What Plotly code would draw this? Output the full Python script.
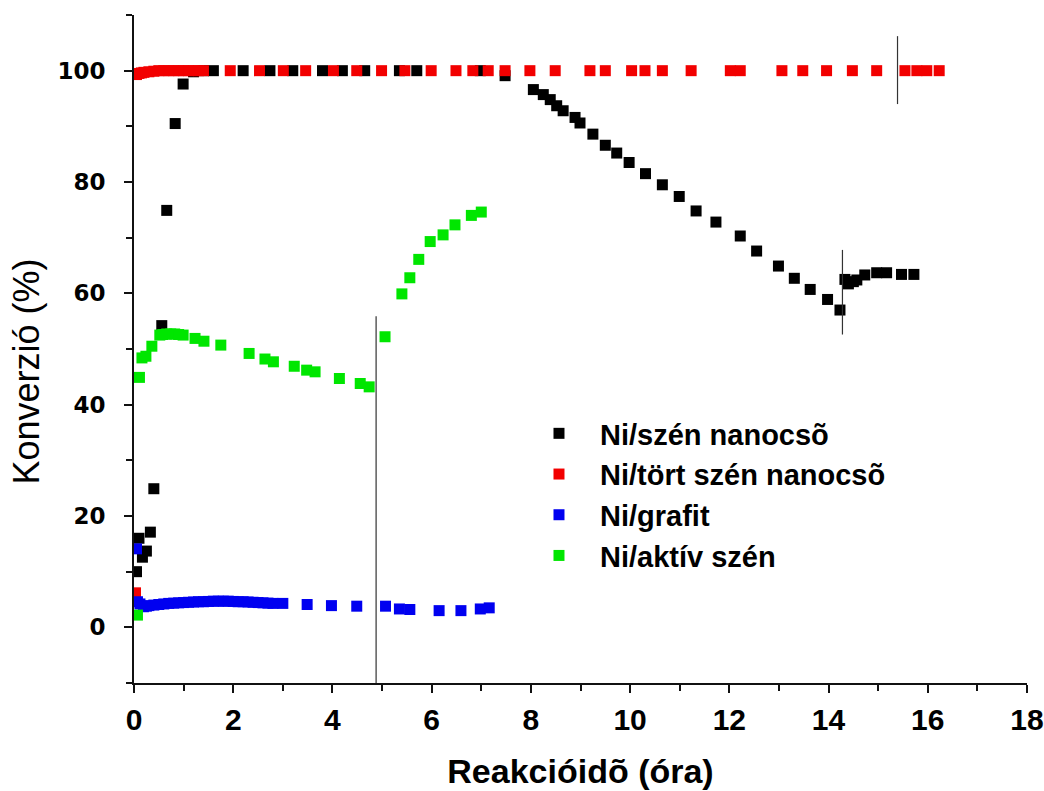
import plotly.graph_objects as go

# Reaction time (h) and conversion (%) per catalyst
cnt_time = [0.05, 0.10, 0.17, 0.25, 0.33, 0.40, 0.56, 0.66, 0.83, 0.99, 1.20, 1.40,
            1.60, 2.20, 2.74, 3.20, 3.80, 4.20, 4.65, 5.35, 5.70, 6.98, 7.48,
            8.05, 8.25, 8.39, 8.52, 8.65, 8.89, 8.99, 9.25, 9.50, 9.73, 9.98,
            10.31, 10.65, 10.99, 11.33, 11.73, 12.22, 12.55, 12.99, 13.31, 13.63,
            13.98, 14.23, 14.33, 14.40, 14.50, 14.57, 14.73, 14.97, 15.17, 15.47, 15.72]
cnt_conv = [10.0, 16.0, 12.6, 13.7, 17.1, 24.9, 54.2, 74.9, 90.5, 97.6, 99.8, 100.0,
            100.0, 100.0, 100.0, 100.0, 100.0, 100.0, 100.0, 100.0, 100.0, 100.0, 99.1,
            96.6, 95.7, 94.8, 93.7, 92.8, 91.6, 90.6, 88.6, 86.6, 85.2, 83.5,
            81.5, 79.5, 77.4, 74.8, 72.8, 70.3, 67.6, 64.9, 62.7, 60.7,
            58.9, 57.0, 62.5, 61.7, 62.1, 62.4, 63.3, 63.7, 63.7, 63.4, 63.4]

broken_time = [0.03, 0.05, 0.10, 0.15, 0.20, 0.30, 0.40, 0.50, 0.60, 0.70, 0.80, 0.90,
               1.00, 1.10, 1.20, 1.30, 1.40, 1.94, 2.53, 3.01, 3.46, 4.02, 4.49, 4.99,
               5.46, 5.99, 6.49, 6.83, 7.14, 7.48, 7.98, 8.49, 9.19, 9.50, 10.03, 10.30,
               10.65, 11.23, 12.02, 12.22, 13.06, 13.48, 13.96, 14.48, 14.97, 15.54,
               15.78, 15.98, 16.23]
broken_conv = [6.2, 99.3, 99.5, 99.6, 99.7, 99.8, 99.9, 100.0, 100.0, 100.0, 100.0, 100.0,
               100.0, 100.0, 100.0, 100.0, 100.0, 100.0, 100.0, 100.0, 100.0, 100.0, 100.0, 100.0,
               100.0, 100.0, 100.0, 100.0, 100.0, 100.0, 100.0, 100.0, 100.0, 100.0, 100.0, 100.0,
               100.0, 100.0, 100.0, 100.0, 100.0, 100.0, 100.0, 100.0, 100.0, 100.0,
               100.0, 100.0, 100.0]

graphite_time = [0.05, 0.07, 0.12, 0.19, 0.25, 0.30, 0.40, 0.50, 0.60, 0.70, 0.80, 0.90,
                 1.00, 1.10, 1.20, 1.30, 1.40, 1.50, 1.60, 1.70, 1.80, 1.90, 2.00, 2.10,
                 2.20, 2.30, 2.40, 2.50, 2.60, 2.70, 2.80, 3.00, 3.49, 3.98, 4.49, 5.07,
                 5.35, 5.56, 6.15, 6.59, 6.98, 7.16]
graphite_conv = [14.1, 4.6, 4.2, 3.7, 3.8, 3.9, 4.0, 4.1, 4.2, 4.3, 4.35, 4.4,
                 4.45, 4.5, 4.55, 4.6, 4.6, 4.65, 4.7, 4.7, 4.7, 4.7, 4.65, 4.6,
                 4.6, 4.55, 4.5, 4.45, 4.4, 4.35, 4.3, 4.3, 4.1, 3.9, 3.8, 3.8,
                 3.3, 3.2, 3.0, 3.0, 3.3, 3.5]

ac_time = [0.07, 0.11, 0.16, 0.24, 0.36, 0.52, 0.58, 0.66, 0.74, 0.82, 0.90, 0.99,
           1.23, 1.41, 1.75, 2.32, 2.64, 2.81, 3.23, 3.48, 3.65, 4.14, 4.56, 4.74,
           5.06, 5.40, 5.56, 5.74, 5.97, 6.23, 6.47, 6.80, 7.00]
ac_conv = [2.2, 44.9, 48.4, 48.7, 50.5, 52.5, 52.6, 52.7, 52.7, 52.7, 52.6, 52.5,
           51.9, 51.4, 50.7, 49.2, 48.2, 47.7, 46.9, 46.2, 45.9, 44.7, 43.8, 43.2,
           52.2, 59.9, 62.8, 66.1, 69.3, 70.5, 72.3, 74.0, 74.6]

series_names = ["Ni/szén nanocsõ", "Ni/tört szén nanocsõ", "Ni/grafit", "Ni/aktív szén"]
series_colors = ["#000000", "#f20000", "#0000f0", "#00e600"]

# Vertical markers: (time, lower conversion, upper conversion)
marker_time = [4.88, 14.28, 15.39]
marker_low = [-10.0, 52.6, 94.0]
marker_high = [55.9, 67.8, 106.2]

fig = go.Figure()
for name, color, xs, ys in zip(series_names, series_colors,
                               [cnt_time, broken_time, graphite_time, ac_time],
                               [cnt_conv, broken_conv, graphite_conv, ac_conv]):
    fig.add_trace(go.Scatter(
        x=xs, y=ys, mode="markers", name=name,
        marker=dict(symbol="square", size=11, color=color, line=dict(width=0)),
    ))

for t, lo, hi in zip(marker_time, marker_low, marker_high):
    fig.add_shape(type="line", xref="x", yref="y", x0=t, x1=t, y0=lo, y1=hi,
                  line=dict(color="#333333", width=1.2), layer="above")

# Y-axis title placed as a rotated annotation, slightly below the domain centre
fig.add_annotation(
    text="Konverzió (%)", textangle=-90, showarrow=False,
    xref="paper", yref="paper", x=-0.12, y=0.466, xanchor="center", yanchor="middle",
    font=dict(family="Liberation Sans, Arial, sans-serif", size=36, color="#000000"),
)

axis_common = dict(
    showline=True, linecolor="#111111", linewidth=2,
    showgrid=False, zeroline=False, automargin=False,
    ticks="outside", ticklen=8, tickwidth=2, tickcolor="#111111",
)

fig.update_layout(
    width=1044, height=791,
    margin=dict(l=134, r=17, t=15, b=108),
    paper_bgcolor="white", plot_bgcolor="white",
    showlegend=True,
    legend=dict(
        x=0.43, y=0.4117, xanchor="left", yanchor="top",
        font=dict(family="Liberation Sans, Arial, sans-serif", size=29, color="#000000", weight="bold"),
        bgcolor="rgba(0,0,0,0)", itemwidth=72, tracegroupgap=0,
    ),
    xaxis=dict(
        range=[0, 18], tick0=0, dtick=2,
        minor=dict(dtick=1, ticks="outside", ticklen=6, tickwidth=2, tickcolor="#111111"),
        tickfont=dict(family="Liberation Sans, Arial, sans-serif",
                      size=30, color="#000000", weight="bold"),
        ticklabelstandoff=1, ticklabeloverflow="allow",
        title=dict(text="Reakcióidõ (óra)", standoff=24,
                   font=dict(family="Liberation Sans, Arial, sans-serif",
                             size=34, color="#000000", weight="bold")),
        **axis_common,
    ),
    yaxis=dict(
        range=[-10, 110], tick0=0, dtick=20,
        minor=dict(dtick=10, ticks="outside", ticklen=6, tickwidth=2, tickcolor="#111111"),
        tickfont=dict(family="DejaVu Sans, sans-serif", size=23, color="#000000", weight="bold"),
        ticklabelstandoff=14,
        **axis_common,
    ),
)

fig.write_html("out.html")
